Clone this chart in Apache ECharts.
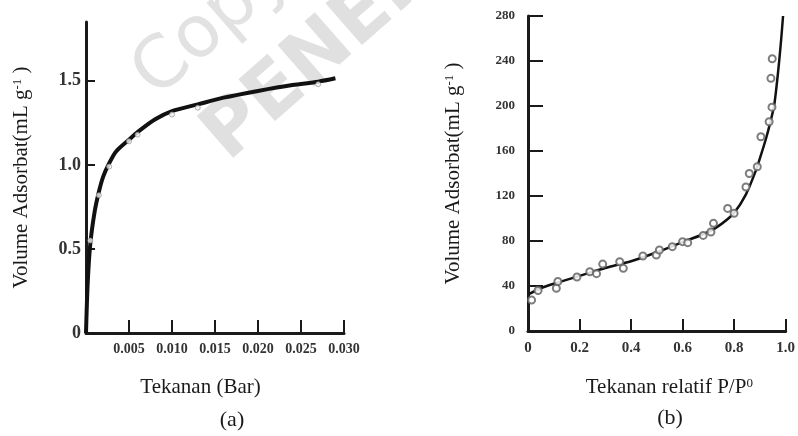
<!DOCTYPE html>
<html>
<head>
<meta charset="utf-8">
<script src="https://cdn.jsdelivr.net/npm/echarts@6/dist/echarts.min.js"></script>
<style>
  html, body { margin: 0; padding: 0; background: #fff; }
  #chart { width: 798px; height: 436px; }
</style>
</head>
<body>
<div id="chart"></div>
<script>
// panel (a) - tekanan (bar) vs volume
var curveA = [[0, 0], [0.0002, 0.3], [0.0005, 0.53], [0.001, 0.72], [0.0015, 0.84], [0.002, 0.93],
  [0.0027, 1.01], [0.0035, 1.08], [0.005, 1.15], [0.006, 1.195], [0.008, 1.27], [0.010, 1.32],
  [0.013, 1.36], [0.016, 1.40], [0.020, 1.44], [0.024, 1.475], [0.027, 1.495], [0.029, 1.515]];
var pointsA = [[0.0005, 0.55], [0.0015, 0.82], [0.0027, 0.99], [0.005, 1.14], [0.006, 1.18],
  [0.010, 1.30], [0.013, 1.34], [0.027, 1.48]];

// panel (b) - tekanan relatif vs volume
var curveB = [[0.005, 33], [0.05, 38], [0.1, 42], [0.2, 49], [0.3, 56], [0.4, 62], [0.5, 70],
  [0.6, 79], [0.7, 88], [0.75, 95], [0.8, 105], [0.845, 121], [0.885, 143], [0.905, 157],
  [0.925, 172], [0.94, 185], [0.955, 200], [0.965, 218], [0.975, 240], [0.983, 260], [0.99, 280]];
var pointsB = [[0.014, 27.5], [0.039, 36], [0.11, 38], [0.116, 44], [0.19, 48], [0.24, 52.7],
  [0.266, 51], [0.29, 59.5], [0.356, 61.6], [0.37, 55.7], [0.446, 66.7], [0.498, 67.6],
  [0.51, 72], [0.56, 75], [0.60, 79.4], [0.62, 78.5], [0.68, 85], [0.71, 88], [0.72, 95.7],
  [0.775, 109], [0.80, 104.6], [0.846, 128], [0.859, 140], [0.89, 146], [0.904, 172.7],
  [0.936, 186], [0.947, 199], [0.943, 224.6], [0.948, 242]];

var serif = 'Liberation Serif';
var ink = '#1a1a1a';

var chart = echarts.init(document.getElementById('chart'));

function fmt1(v) { return v === 0 ? '0' : v.toFixed(1); }

var option = {
  backgroundColor: '#fff',
  animation: false,
  grid: [
    { left: 86, top: 22, width: 258, height: 311 },
    { left: 528, top: 16, width: 259, height: 315 }
  ],
  xAxis: [{
    gridIndex: 0, type: 'value', min: 0, max: 0.030, interval: 0.005,
    splitLine: { show: false },
    axisLine: { lineStyle: { color: ink, width: 3 } },
    axisTick: { inside: true, length: 13, lineStyle: { color: ink, width: 2 } },
    axisLabel: {
      margin: 9, color: '#333', fontFamily: serif, fontSize: 14, fontWeight: 'bold',
      formatter: function (v) { return v === 0 ? '' : v.toFixed(3); }
    },
    name: 'Tekanan (Bar)', nameLocation: 'middle', nameGap: 44,
    nameTextStyle: { fontFamily: serif, fontSize: 21, color: ink, padding: [0, 29, 0, 0] }
  }, {
    gridIndex: 1, type: 'value', min: 0, max: 1.0, interval: 0.2,
    splitLine: { show: false },
    axisLine: { lineStyle: { color: ink, width: 3 } },
    axisTick: { inside: true, length: 12, lineStyle: { color: ink, width: 2 } },
    axisLabel: {
      margin: 10, color: '#333', fontFamily: serif, fontSize: 15, fontWeight: 'bold',
      formatter: fmt1
    },
    name: 'Tekanan relatif P/P{sup|0}', nameLocation: 'middle', nameGap: 46,
    nameTextStyle: {
      fontFamily: serif, fontSize: 21, color: ink, padding: [0, 0, 0, 25],
      rich: { sup: { fontFamily: serif, fontSize: 13, color: ink, verticalAlign: 'top', padding: [0, 0, 8, 0] } }
    }
  }],
  yAxis: [{
    gridIndex: 0, type: 'value', min: 0, max: 1.85, interval: 0.5,
    splitLine: { show: false },
    axisLine: { lineStyle: { color: ink, width: 3 } },
    axisTick: { inside: true, length: 9, lineStyle: { color: ink, width: 2 } },
    axisLabel: {
      margin: 5, color: '#333', fontFamily: serif, fontSize: 18, fontWeight: 'bold',
      showMaxLabel: false, formatter: fmt1
    },
    name: 'Volume Adsorbat(mL g{sup|-1} )', nameLocation: 'middle', nameGap: 54, nameRotate: 90,
    nameTextStyle: {
      fontFamily: serif, fontSize: 21, color: ink,
      rich: { sup: { fontFamily: serif, fontSize: 13, color: ink, padding: [0, 0, 8, 0] } }
    }
  }, {
    gridIndex: 1, type: 'value', min: 0, max: 280, interval: 40,
    splitLine: { show: false },
    axisLine: { lineStyle: { color: ink, width: 3 } },
    axisTick: { inside: true, length: 15, lineStyle: { color: ink, width: 2 } },
    axisLabel: {
      margin: 13, color: '#333', fontFamily: serif, fontSize: 13, fontWeight: 'bold'
    },
    name: 'Volume Adsorbat(mL g{sup|-1} )', nameLocation: 'middle', nameGap: 64, nameRotate: 90,
    nameTextStyle: {
      fontFamily: serif, fontSize: 21, color: ink,
      rich: { sup: { fontFamily: serif, fontSize: 13, color: ink, padding: [0, 0, 8, 0] } }
    }
  }],
  graphic: [
    // faint watermark behind panel (a)
    { type: 'text', x: 168, y: 112, rotation: 0.72, z: -1,
      style: { text: 'Copyright', fontFamily: 'DejaVu Sans', fontSize: 72, fill: '#e2e2e2',
        align: 'left', verticalAlign: 'bottom' } },
    { type: 'text', x: 240, y: 176, rotation: 0.72, z: -1,
      style: { text: 'PENERBIT', fontFamily: 'DejaVu Sans', fontWeight: 'bold', fontSize: 76, fill: '#e0e0e0',
        align: 'left', verticalAlign: 'bottom' } },
    { type: 'text', x: 232, y: 420,
      style: { text: '(a)', fontFamily: serif, fontSize: 22, fill: ink, align: 'center', verticalAlign: 'middle' } },
    { type: 'text', x: 670, y: 418,
      style: { text: '(b)', fontFamily: serif, fontSize: 22, fill: ink, align: 'center', verticalAlign: 'middle' } }
  ],
  series: [{
    type: 'line', xAxisIndex: 0, yAxisIndex: 0, data: curveA,
    smooth: 0.3, showSymbol: false,
    lineStyle: { color: '#111', width: 4 }
  }, {
    type: 'scatter', xAxisIndex: 0, yAxisIndex: 0, data: pointsA,
    symbol: 'circle', symbolSize: 5, z: 3,
    itemStyle: { color: '#f2f2f2', borderColor: '#888', borderWidth: 0.8 }
  }, {
    type: 'line', xAxisIndex: 1, yAxisIndex: 1, data: curveB,
    smooth: 0.3, showSymbol: false,
    lineStyle: { color: '#111', width: 2.5 }
  }, {
    type: 'scatter', xAxisIndex: 1, yAxisIndex: 1, data: pointsB,
    symbol: 'emptyCircle', symbolSize: 7, z: 3,
    itemStyle: { color: '#666', borderWidth: 1.2, opacity: 0.85 }
  }]
};

chart.setOption(option);
</script>
</body>
</html>
